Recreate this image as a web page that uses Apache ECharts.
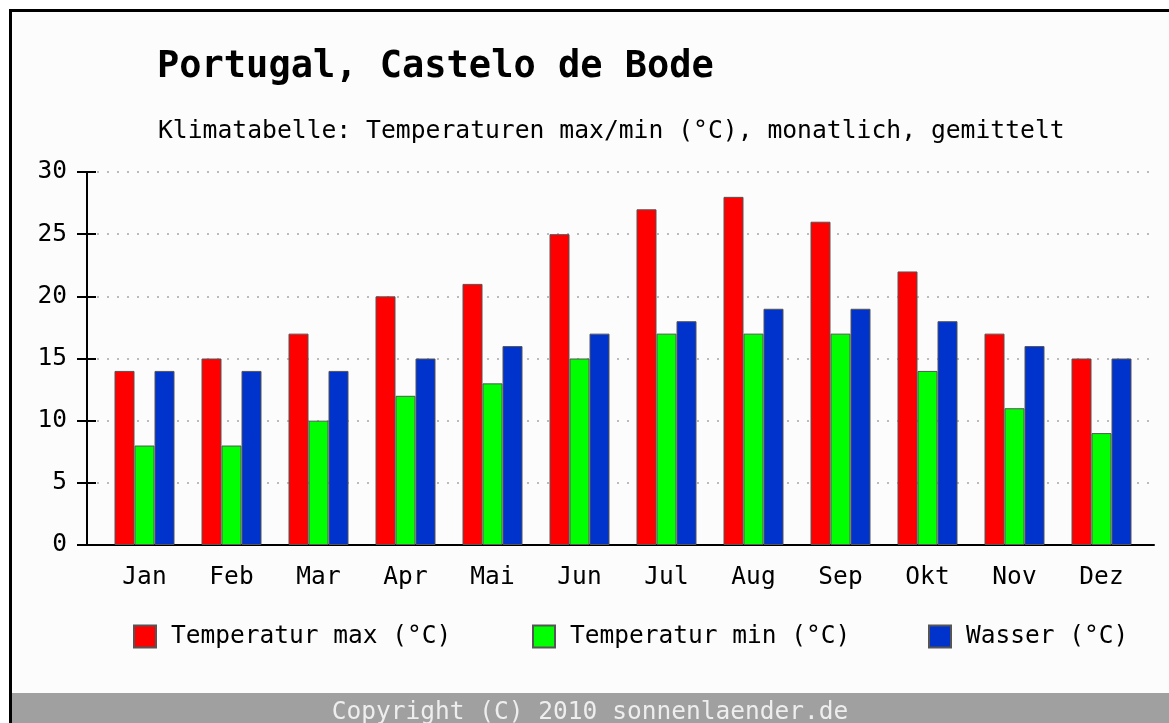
<!DOCTYPE html>
<html>
<head>
<meta charset="utf-8">
<script src="https://cdn.jsdelivr.net/npm/echarts@6/dist/echarts.min.js"></script>
<style>
html, body { margin: 0; padding: 0; background: #fff; }
#main { width: 1169px; height: 723px; }
</style>
</head>
<body>
<div id="main"></div>
<script>
var months = ['Jan', 'Feb', 'Mar', 'Apr', 'Mai', 'Jun', 'Jul', 'Aug', 'Sep', 'Okt', 'Nov', 'Dez'];
var tempMax = [14, 15, 17, 20, 21, 25, 27, 28, 26, 22, 17, 15];
var tempMin = [8, 8, 10, 12, 13, 15, 17, 17, 17, 14, 11, 9];
var wasser = [14, 14, 14, 15, 16, 17, 18, 19, 19, 18, 16, 15];
var seriesNames = ['Temperatur max (°C)', 'Temperatur min (°C)', 'Wasser (°C)'];

var font = 'DejaVu Sans Mono';
var myChart = echarts.init(document.getElementById('main'));

function barSeries(name, data, color) {
    return {
        name: name,
        type: 'bar',
        xAxisIndex: 1,
        yAxisIndex: 2,
        barWidth: 20,
        barGap: '0%',
        itemStyle: {
            color: color,
            borderColor: '#555',
            borderWidth: 1
        },
        data: data
    };
}

function legendAt(left, name) {
    return {
        left: left,
        top: 624,
        padding: 0,
        itemWidth: 22,
        itemHeight: 22,
        icon: 'rect',
        selectedMode: false,
        data: [name],
        textStyle: {
            fontFamily: font,
            fontSize: 24.5,
            color: '#000',
            padding: [0, 0, 0, 10]
        }
    };
}

var option = {
    backgroundColor: '#fff',
    animation: false,
    graphic: [
        {   // frame
            type: 'rect',
            z: -10,
            shape: { x: 10.5, y: 10.5, width: 1200, height: 760 },
            style: { fill: '#fcfcfc', stroke: '#000', lineWidth: 3 }
        },
        {   // copyright bar
            type: 'rect',
            z: -5,
            shape: { x: 12, y: 693, width: 1160, height: 32 },
            style: { fill: '#a0a0a0' }
        },
        {
            type: 'text',
            z: 10,
            x: 590,
            y: 700,
            style: {
                text: 'Copyright (C) 2010 sonnenlaender.de',
                fontFamily: font,
                fontSize: 24.5,
                fill: '#eeeeee',
                align: 'center',
                verticalAlign: 'top'
            }
        }
    ],
    title: [
        {
            text: 'Portugal, Castelo de Bode',
            left: 152,
            top: 44,
            textStyle: { fontFamily: font, fontSize: 37, fontWeight: 'bold', color: '#000' }
        },
        {
            text: 'Klimatabelle: Temperaturen max/min (°C), monatlich, gemittelt',
            left: 153,
            top: 114,
            textStyle: { fontFamily: font, fontSize: 24.7, fontWeight: 'normal', color: '#000' }
        }
    ],
    legend: [
        legendAt(133, seriesNames[0]),
        legendAt(532, seriesNames[1]),
        legendAt(928, seriesNames[2])
    ],
    grid: [
        { left: 87, right: 15, top: 172, bottom: 178 },
        { left: 101, right: 24, top: 172, bottom: 178 }
    ],
    xAxis: [
        {
            type: 'category',
            gridIndex: 0,
            data: months,
            axisLine: { lineStyle: { color: '#000', width: 2 } },
            axisTick: { show: false },
            axisLabel: { show: false }
        },
        {
            type: 'category',
            gridIndex: 1,
            data: months,
            axisLine: { show: false },
            axisTick: { show: false },
            axisLabel: {
                margin: 20,
                fontFamily: font,
                fontSize: 24.5,
                color: '#000'
            }
        }
    ],
    yAxis: [
        {
            type: 'value',
            gridIndex: 0,
            position: 'left',
            min: 0,
            max: 30,
            interval: 5,
            axisLine: { show: true, lineStyle: { color: '#000', width: 2 } },
            axisTick: { show: true, length: 10, lineStyle: { color: '#000', width: 2 } },
            axisLabel: {
                margin: 20,
                fontFamily: font,
                fontSize: 24.5,
                color: '#000'
            },
            splitLine: {
                show: true,
                lineStyle: { color: '#bbb', width: 2, type: [2, 8] }
            }
        },
        {   // inner half of the ticks
            type: 'value',
            gridIndex: 0,
            position: 'left',
            min: 0,
            max: 30,
            interval: 5,
            axisLine: { show: false },
            axisTick: { show: true, inside: true, length: 9, lineStyle: { color: '#000', width: 2 } },
            axisLabel: { show: false },
            splitLine: { show: false }
        },
        {
            type: 'value',
            gridIndex: 1,
            min: 0,
            max: 30,
            show: false
        }
    ],
    series: [
        barSeries(seriesNames[0], tempMax, '#ff0000'),
        barSeries(seriesNames[1], tempMin, '#00ff00'),
        barSeries(seriesNames[2], wasser, '#0033cc')
    ]
};

myChart.setOption(option);
</script>
</body>
</html>
